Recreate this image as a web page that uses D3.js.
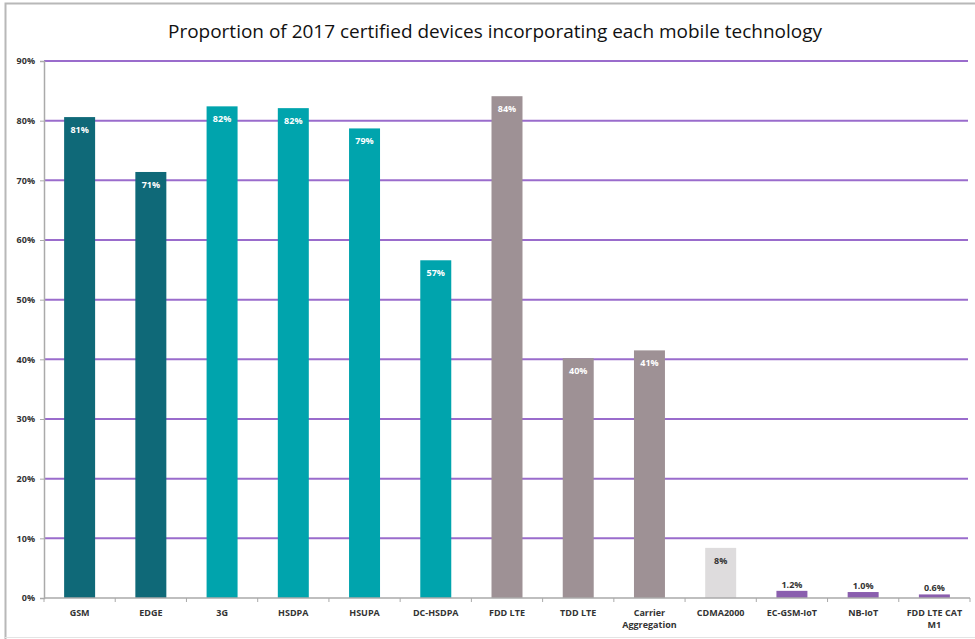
<!DOCTYPE html>
<html><head><meta charset="utf-8">
<script src="https://cdn.jsdelivr.net/npm/d3@7"></script>
<style>body{margin:0;background:#fff}svg{display:block}</style>
</head><body><svg id="c" width="975" height="639"></svg>
<script>
const categories = ["GSM","EDGE","3G","HSDPA","HSUPA","DC-HSDPA","FDD LTE","TDD LTE","Carrier Aggregation","CDMA2000","EC-GSM-IoT","NB-IoT","FDD LTE CAT M1"];
const values = [80.6, 71.4, 82.4, 82.1, 78.7, 56.6, 84.1, 40.2, 41.5, 8.4, 1.2, 1.0, 0.6];
const labels = ["81%","71%","82%","82%","79%","57%","84%","40%","41%","8%","1.2%","1.0%","0.6%"];
const groups = ["2G","2G","3G","3G","3G","3G","4G","4G","4G","CDMA","IoT","IoT","IoT"];
const yTicks = [0,10,20,30,40,50,60,70,80,90];
const labelLines = {"Carrier Aggregation":["Carrier","Aggregation"],"FDD LTE CAT M1":["FDD LTE CAT","M1"]};
const colors = {"2G":"#0f6978","3G":"#00a4ad","4G":"#9e9195","CDMA":"#dedcdd","IoT":"#8a5eae"};

const svg = d3.select("#c");
// frame
svg.append("path").attr("d","M5.5,640 L5.5,3.5 L980,3.5").attr("fill","none").attr("stroke","#b8b8b8").attr("stroke-width",2);
svg.append("line").attr("x1",5).attr("x2",975).attr("y1",637.5).attr("y2",637.5).attr("stroke","#e4e4e4");

svg.append("text").attr("x",495).attr("y",38).attr("text-anchor","middle")
  .attr("font-family","Open Sans").attr("font-size",19).attr("fill","#111")
  .attr("textLength",654).attr("lengthAdjust","spacingAndGlyphs")
  .text("Proportion of 2017 certified devices incorporating each mobile technology");

const x = d3.scaleBand().domain(categories).range([44,970]).paddingInner(0.565).paddingOuter(0.2825);
const y = d3.scaleLinear().domain([0,90]).range([598,61]);

// gridlines
svg.append("g").selectAll("line").data(yTicks.filter(d=>d>0)).join("line")
  .attr("x1",44).attr("x2",968).attr("y1",d=>y(d)).attr("y2",d=>y(d))
  .attr("stroke","#9a6ccc").attr("stroke-width",2);

// y axis
const ya = svg.append("g").attr("transform","translate(44,0)")
  .call(d3.axisLeft(y).tickValues(yTicks).tickFormat(d=>d+"%").tickSize(4).tickPadding(5));
ya.select(".domain").attr("stroke","#aaa").attr("stroke-width",1.5);
ya.selectAll(".tick line").attr("stroke","#aaa");
ya.selectAll("text").attr("font-family","Open Sans").attr("font-weight","bold").attr("font-size",9).attr("fill","#333");

// bars
svg.append("g").selectAll("rect").data(categories).join("rect")
  .attr("x",d=>x(d)).attr("width",x.bandwidth())
  .attr("y",(d,i)=>y(values[i])).attr("height",(d,i)=>y(0)-y(values[i]))
  .attr("fill",(d,i)=>colors[groups[i]]);

// x axis
const xa = svg.append("g").attr("transform","translate(0,598)");
xa.append("line").attr("x1",44).attr("x2",970).attr("stroke","#aaa").attr("stroke-width",1.5);
xa.selectAll("line.t").data(d3.range(categories.length+1)).join("line").attr("class","t")
  .attr("x1",i=>44+i*x.step()).attr("x2",i=>44+i*x.step()).attr("y1",0).attr("y2",4).attr("stroke","#aaa");
xa.selectAll("text").data(categories).join("text")
  .attr("x",d=>x(d)+x.bandwidth()/2).attr("y",18).attr("text-anchor","middle")
  .attr("font-family","Open Sans").attr("font-weight","bold").attr("font-size",9).attr("fill","#333")
  .each(function(d){
    const lines = labelLines[d] || [d];
    d3.select(this).selectAll("tspan").data(lines).join("tspan")
      .attr("x",x(d)+x.bandwidth()/2).attr("dy",(l,i)=>i?12:0).text(l=>l);
  });

// value labels
svg.append("g").selectAll("text").data(categories).join("text")
  .attr("x",d=>x(d)+x.bandwidth()/2)
  .attr("y",(d,i)=> groups[i]==="IoT" ? y(values[i])-3 : y(values[i])+16)
  .attr("text-anchor","middle").attr("font-family","Open Sans").attr("font-weight","bold").attr("font-size",9)
  .attr("fill",(d,i)=> (groups[i]==="IoT"||groups[i]==="CDMA") ? "#333" : "#fff")
  .text((d,i)=>labels[i]);
</script></body></html>
